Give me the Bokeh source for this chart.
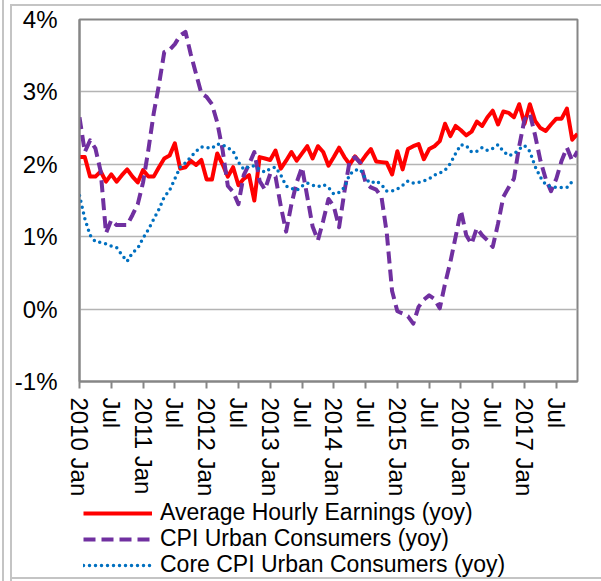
from bokeh.plotting import figure
from bokeh.models import FixedTicker, Range1d, Legend, LegendItem
from bokeh.layouts import column
from bokeh.embed import file_html
from bokeh.resources import INLINE

# Monthly year-over-year changes (%), starting 2010 Jan
ahe = [2.10, 2.10, 1.83, 1.83, 1.90, 1.76, 1.86, 1.76, 1.85, 1.93, 1.83, 1.75,
       1.92, 1.83, 1.83, 1.96, 2.08, 2.12, 2.29, 1.94, 1.96, 2.05, 1.99, 2.06,
       1.79, 1.79, 2.15, 2.00, 1.83, 1.96, 1.71, 1.80, 1.85, 1.50, 2.10, 2.08,
       2.06, 2.19, 1.94, 2.05, 2.17, 2.05, 2.15, 2.25, 2.08, 2.25, 2.17, 1.98,
       2.10, 2.23, 2.10, 2.00, 2.11, 2.02, 2.12, 2.21, 2.04, 2.03, 2.02, 1.86,
       2.18, 1.93, 2.21, 2.25, 2.28, 2.07, 2.21, 2.25, 2.32, 2.56, 2.39, 2.53,
       2.47, 2.40, 2.45, 2.59, 2.53, 2.65, 2.74, 2.55, 2.73, 2.71, 2.65, 2.83,
       2.56, 2.83, 2.60, 2.50, 2.46, 2.55, 2.63, 2.63, 2.77, 2.34, 2.42]

cpi = [2.65, 2.17, 2.33, 2.22, 1.90, 1.05, 1.23, 1.16, 1.16, 1.16, 1.30, 1.45,
       1.75, 2.20, 2.70, 3.10, 3.55, 3.58, 3.66, 3.78, 3.83, 3.52, 3.25, 2.98,
       2.93, 2.83, 2.58, 2.20, 1.70, 1.62, 1.45, 1.85, 2.00, 2.17, 1.77, 1.65,
       1.87, 1.83, 1.42, 1.07, 1.45, 1.75, 1.96, 1.55, 1.14, 0.95, 1.22, 1.52,
       1.42, 1.13, 1.62, 2.05, 2.10, 2.02, 1.75, 1.68, 1.65, 1.55, 1.05, 0.25,
       -0.03, -0.06, -0.10, -0.20, 0.03, 0.13, 0.19, 0.14, 0.01, 0.35, 0.65, 1.00,
       1.36, 1.02, 0.90, 1.12, 1.02, 0.95, 0.86, 1.18, 1.55, 1.68, 1.80, 2.25,
       2.62, 2.70, 2.40, 2.05, 1.80, 1.63, 1.80, 2.05, 2.23, 2.05, 2.18]

core = [1.57, 1.25, 1.02, 0.93, 0.92, 0.90, 0.87, 0.85, 0.75, 0.66, 0.78, 0.84,
        0.98, 1.10, 1.24, 1.38, 1.55, 1.64, 1.80, 1.96, 2.02, 2.10, 2.18, 2.24,
        2.23, 2.22, 2.28, 2.27, 2.23, 2.18, 2.03, 1.93, 1.97, 1.98, 1.93, 1.89,
        1.94, 1.96, 1.85, 1.70, 1.67, 1.64, 1.70, 1.74, 1.71, 1.69, 1.72, 1.68,
        1.59, 1.61, 1.68, 1.86, 1.92, 1.93, 1.80, 1.74, 1.77, 1.72, 1.63, 1.63,
        1.66, 1.71, 1.77, 1.74, 1.75, 1.77, 1.80, 1.85, 1.88, 1.92, 2.01, 2.15,
        2.27, 2.26, 2.17, 2.18, 2.23, 2.19, 2.22, 2.27, 2.18, 2.12, 2.14, 2.21,
        2.26, 2.18, 1.97, 1.82, 1.72, 1.69, 1.68, 1.68, 1.68, 1.76]

tick_months = [0, 6, 12, 18, 24, 30, 36, 42, 48, 54, 60, 66, 72, 78, 84, 90]
tick_labels = ["2010 Jan", "Jul", "2011 Jan", "Jul", "2012 Jan", "Jul",
               "2013 Jan", "Jul", "2014 Jan", "Jul", "2015 Jan", "Jul",
               "2016 Jan", "Jul", "2017 Jan", "Jul"]
y_ticks = [-1, 0, 1, 2, 3, 4]
y_labels = ["-1%", "0%", "1%", "2%", "3%", "4%"]

series_names = ["Average Hourly Earnings (yoy)", "CPI Urban Consumers (yoy)",
                "Core CPI Urban Consumers (yoy)"]
series_colors = ["#ff0000", "#7030a0", "#0070c0"]
series_dash = ["solid", "12 6", "0 6"]
series_width = [4, 4, 3.5]
series_cap = ["butt", "butt", "round"]

FONT = "Liberation Sans"
FS = "24px"
LEG_FS = "23px"
G = "linear-gradient(#c4c4c4,#c4c4c4)"

# ---------------- main chart ----------------
p = figure(width=601, height=500, output_backend="svg", toolbar_location=None,
           x_range=Range1d(0, 94), y_range=Range1d(-1, 4),
           min_border_left=79, min_border_right=24, min_border_top=19,
           min_border_bottom=119)
p.background_fill_color = "white"
p.border_fill_alpha = 0
p.styles = {
    "background-color": "white",
    "background-image": ", ".join([G] * 3),
    "background-size": "2px 100%, 2px 100%, 100% 2px",
    "background-position": "2px 0px, 10px 4px, 10px 4px",
    "background-repeat": "no-repeat",
}
p.outline_line_color = "#868686"
p.outline_line_width = 2

all_series = [ahe, cpi, core]
for i, vals in enumerate(all_series):
    p.line(list(range(len(vals))), vals, line_color=series_colors[i],
           line_width=series_width[i], line_dash=series_dash[i],
           line_cap=series_cap[i], line_join="round")

# x axis
p.xaxis.ticker = FixedTicker(ticks=tick_months)
p.xaxis.major_label_overrides = {m: l for m, l in zip(tick_months, tick_labels)}
p.xaxis.major_label_orientation = "vertical"
p.xaxis.major_tick_out = 7
p.xaxis.major_tick_in = 0
p.xaxis.minor_tick_out = 0
p.xaxis.minor_tick_in = 0
p.xaxis.major_tick_line_color = "#868686"
p.xaxis.major_tick_line_width = 2
p.xaxis.axis_line_color = "#868686"
p.xaxis.axis_line_width = 2
p.xaxis.major_label_standoff = 9
p.xaxis.major_label_text_font = FONT
p.xaxis.major_label_text_font_size = FS
p.xaxis.major_label_text_color = "black"

# y axis
p.yaxis.ticker = FixedTicker(ticks=y_ticks)
p.yaxis.major_label_overrides = {t: l for t, l in zip(y_ticks, y_labels)}
p.yaxis.major_tick_out = 0
p.yaxis.major_tick_in = 0
p.yaxis.minor_tick_out = 0
p.yaxis.minor_tick_in = 0
p.yaxis.axis_line_color = "#868686"
p.yaxis.axis_line_width = 2
p.yaxis.major_label_standoff = 22
p.yaxis.major_label_text_font = FONT
p.yaxis.major_label_text_font_size = FS
p.yaxis.major_label_text_color = "black"

p.xgrid.visible = False
p.ygrid.grid_line_color = "#b4b4b4"
p.ygrid.grid_line_width = 1.5

# ---------------- legend strip ----------------
# The series are drawn again here outside the visible window so that the
# legend swatches carry the series' styles.
q = figure(width=601, height=81, output_backend="svg", toolbar_location=None,
           x_axis_type=None, y_axis_type=None,
           x_range=Range1d(200, 300), y_range=Range1d(-1, 4),
           min_border_left=79, min_border_right=24, min_border_top=0,
           min_border_bottom=0)
q.background_fill_alpha = 0
q.border_fill_alpha = 0
q.outline_line_color = None
q.grid.visible = False
q.styles = {
    "background-color": "white",
    "background-image": ", ".join([G] * 3),
    "background-size": "2px 100%, 2px 100%, 100% 2px",
    "background-position": "2px 0px, 10px 0px, 10px 77px",
    "background-repeat": "no-repeat",
}

row_bottoms = [55, 29, 3]
for i, vals in enumerate(all_series):
    r = q.line(list(range(len(vals))), vals, line_color=series_colors[i],
               line_width=series_width[i], line_dash=series_dash[i],
               line_cap=series_cap[i])
    lg = Legend(items=[LegendItem(label=series_names[i], renderers=[r])],
                location=(4, row_bottoms[i]), glyph_width=69, glyph_height=20,
                label_height=20, label_standoff=8, padding=0, margin=0,
                spacing=0, border_line_color=None, background_fill_alpha=0,
                label_text_font=FONT, label_text_font_size=LEG_FS,
                label_text_color="black")
    q.add_layout(lg)

layout = column(p, q, spacing=0)
open("out.html", "w").write(file_html(layout, INLINE))
